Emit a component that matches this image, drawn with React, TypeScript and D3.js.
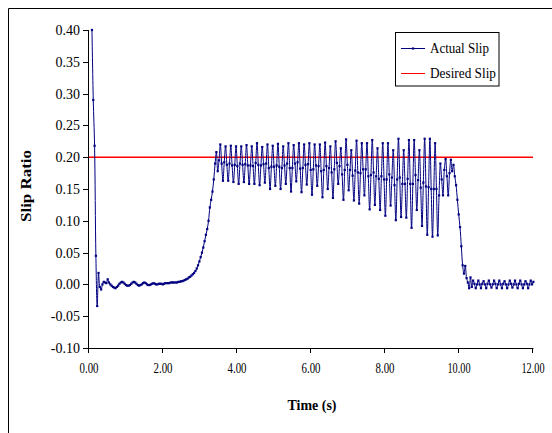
import React from "react";
import * as d3 from "d3";

// Axis ticks
const xTicks = [0, 2, 4, 6, 8, 10, 12];
const yTicks = [-0.1, -0.05, 0, 0.05, 0.1, 0.15, 0.2, 0.25, 0.3, 0.35, 0.4];

// Desired slip set-point
const desiredSlip = 0.2;

// Sampling grid of the measured signal (s)
const sampleStart = 0.08;
const sampleStep = 0.0354;

// Measured slip: braking onset and ramp-up (samples 0..97)
const onsetSlip = [
  0.400, 0.290, 0.218, 0.045, -0.034, 0.018, -0.004, -0.008, 0.000, 0.004,
  0.003, 0.002, 0.008, 0.003, 0.000, -0.002, -0.004, -0.005, -0.006, -0.004,
  -0.002, 0.001, 0.003, 0.004, 0.003, 0.001, -0.001, -0.002, -0.002, -0.001,
  0.001, 0.003, 0.004, 0.003, 0.001, -0.001, -0.002, -0.001, 0.000, 0.002,
  0.003, 0.002, 0.000, -0.001, -0.001, 0.000, 0.001, 0.002, 0.001, 0.000,
  0.000, 0.001, 0.001, 0.001, 0.000, 0.001, 0.002, 0.002, 0.002, 0.002,
  0.003, 0.003, 0.003, 0.003, 0.003, 0.003, 0.004, 0.004, 0.005, 0.005,
  0.006, 0.007, 0.008, 0.009, 0.011, 0.012, 0.014, 0.016, 0.018, 0.021,
  0.025, 0.030, 0.036, 0.043, 0.050, 0.058, 0.068, 0.078, 0.087, 0.100,
  0.121, 0.133, 0.146, 0.165, 0.190, 0.208, 0.178, 0.195,
];

// Measured slip: limit-cycle oscillation (peak, falling, trough, rising)
const cycleSlip = [
  [0.220, 0.190, 0.163, 0.192],
  [0.217, 0.188, 0.163, 0.190],
  [0.218, 0.187, 0.161, 0.188],
  [0.217, 0.186, 0.158, 0.190],
  [0.217, 0.188, 0.161, 0.189],
  [0.219, 0.187, 0.158, 0.187],
  [0.217, 0.186, 0.158, 0.191],
  [0.222, 0.188, 0.156, 0.187],
  [0.216, 0.189, 0.160, 0.190],
  [0.220, 0.183, 0.150, 0.185],
  [0.218, 0.185, 0.155, 0.187],
  [0.221, 0.185, 0.150, 0.183],
  [0.217, 0.187, 0.158, 0.190],
  [0.222, 0.183, 0.146, 0.183],
  [0.219, 0.190, 0.162, 0.192],
  [0.222, 0.182, 0.145, 0.183],
  [0.220, 0.188, 0.157, 0.189],
  [0.222, 0.180, 0.141, 0.181],
  [0.220, 0.187, 0.155, 0.186],
  [0.220, 0.178, 0.137, 0.180],
  [0.223, 0.186, 0.150, 0.183],
  [0.217, 0.176, 0.136, 0.181],
  [0.225, 0.191, 0.158, 0.186],
  [0.214, 0.173, 0.133, 0.180],
  [0.228, 0.188, 0.148, 0.180],
  [0.211, 0.171, 0.132, 0.179],
  [0.226, 0.176, 0.127, 0.175],
  [0.222, 0.181, 0.140, 0.181],
  [0.222, 0.170, 0.118, 0.172],
  [0.227, 0.176, 0.125, 0.170],
  [0.214, 0.166, 0.117, 0.170],
  [0.222, 0.165, 0.108, 0.165],
  [0.222, 0.173, 0.124, 0.168],
  [0.211, 0.156, 0.101, 0.165],
  [0.229, 0.168, 0.106, 0.158],
  [0.211, 0.158, 0.105, 0.166],
  [0.227, 0.158, 0.089, 0.158],
  [0.227, 0.172, 0.117, 0.164],
  [0.211, 0.152, 0.092, 0.160],
  [0.229, 0.154, 0.078, 0.153],
];

// Measured slip: release and drop-out (samples 258..290)
const releaseSlip = [
  0.229, 0.150, 0.075, 0.150, 0.222, 0.150, 0.077, 0.140, 0.190, 0.165,
  0.140, 0.180, 0.197, 0.170, 0.140, 0.175, 0.196, 0.178, 0.188, 0.170,
  0.156, 0.133, 0.110, 0.090, 0.060, 0.030, 0.017, 0.029, 0.010, 0.003,
  -0.006, 0.011, -0.004,
];

// Measured slip: settled ripple (samples 291..337)
const settleSlip = [
  0.006, 0.001, -0.006, 0.000, 0.006, 0.000, -0.006, 0.001, 0.005, 0.000,
  -0.006, 0.001, 0.006, 0.000, -0.005, 0.000, 0.006, 0.001, -0.006, 0.000,
  0.006, 0.000, -0.006, 0.001, 0.005, 0.000, -0.006, 0.000, 0.006, 0.001,
  -0.005, 0.000, 0.006, 0.000, -0.006, 0.001, 0.006, 0.000, -0.006, 0.000,
  0.005, 0.001, -0.006, 0.000, 0.006, 0.000, 0.004,
];

const actualSlip = [...onsetSlip, ...cycleSlip.flat(), ...releaseSlip, ...settleSlip];

const FONT = "'Liberation Serif', 'Times New Roman', serif";
const NAVY = "#000080";

export default function App() {
  const x = d3.scaleLinear().domain([0, 12]).range([89, 533]);
  const y = d3.scaleLinear().domain([-0.1, 0.4]).range([348, 30]);

  const pts: [number, number][] = actualSlip.map((v, i) => [sampleStart + i * sampleStep, v]);
  const line = d3
    .line<[number, number]>()
    .x((d) => x(d[0]))
    .y((d) => y(d[1]))
    .curve(d3.curveCatmullRom.alpha(0.5));

  const x0 = x(0);
  const yBottom = y(-0.1);
  const yTop = y(0.4);

  return (
    <svg
      width={552}
      height={433}
      style={{ position: "absolute", left: 0, top: 0, display: "block", background: "#fff" }}
    >
      {/* outer chart frame */}
      <path d="M8.5,433 V8.5 H552" fill="none" stroke="#000" strokeWidth={1} />

      {/* desired slip */}
      <line x1={x(0)} x2={x(12)} y1={y(desiredSlip)} y2={y(desiredSlip)} stroke="#ff0000" strokeWidth={1.5} />

      {/* actual slip */}
      <path d={line(pts) || ""} fill="none" stroke={NAVY} strokeWidth={1} />
      {pts.map((d, i) => (
        <rect key={i} x={x(d[0]) - 1.1} y={y(d[1]) - 1.1} width={2.2} height={2.2} fill={NAVY} />
      ))}

      {/* y axis */}
      <line x1={Math.round(x0) - 0.5} x2={Math.round(x0) - 0.5} y1={yTop} y2={yBottom + 0.5} stroke="#000" />
      {yTicks.map((t) => {
        const yy = Math.round(y(t)) + 0.5;
        return (
          <g key={"y" + t}>
            <line x1={Math.round(x0) - 6} x2={Math.round(x0)} y1={yy} y2={yy} stroke="#000" />
            <text x={80} y={yy + 4.5} textAnchor="end" fontFamily={FONT} fontSize={14} fill="#000">
              {t.toFixed(2)}
            </text>
          </g>
        );
      })}

      {/* x axis */}
      <line x1={Math.round(x0) - 1} x2={x(12) + 0.5} y1={Math.round(yBottom) + 0.5} y2={Math.round(yBottom) + 0.5} stroke="#000" />
      {xTicks.map((t) => {
        const xx = Math.round(x(t)) - 0.5;
        const label = t.toFixed(2);
        return (
          <g key={"x" + t}>
            <line x1={xx} x2={xx} y1={Math.round(yBottom)} y2={Math.round(yBottom) + 5} stroke="#000" />
            <text
              x={x(t)}
              y={373}
              textAnchor="middle"
              fontFamily={FONT}
              fontSize={14}
              fill="#000"
              textLength={label.length > 4 ? 23 : 19}
              lengthAdjust="spacingAndGlyphs"
            >
              {label}
            </text>
          </g>
        );
      })}

      {/* axis titles */}
      <text
        x={312}
        y={410}
        textAnchor="middle"
        fontFamily={FONT}
        fontSize={15}
        fontWeight="bold"
        textLength={49}
        lengthAdjust="spacingAndGlyphs"
      >
        Time (s)
      </text>
      <text
        transform="translate(31,186) rotate(-90)"
        textAnchor="middle"
        fontFamily={FONT}
        fontSize={15}
        fontWeight="bold"
        textLength={72}
        lengthAdjust="spacingAndGlyphs"
      >
        Slip Ratio
      </text>

      {/* legend */}
      <rect x={395.5} y={32.5} width={103.5} height={53.5} fill="#fff" stroke="#000" />
      <line x1={401} x2={425} y1={48.5} y2={48.5} stroke={NAVY} />
      <rect x={412} y={47.4} width={2.2} height={2.2} fill={NAVY} />
      <text x={430} y={53} fontFamily={FONT} fontSize={14} textLength={59} lengthAdjust="spacingAndGlyphs">
        Actual Slip
      </text>
      <line x1={401} x2={425} y1={73.5} y2={73.5} stroke="#ff0000" />
      <text x={430} y={78} fontFamily={FONT} fontSize={14} textLength={66} lengthAdjust="spacingAndGlyphs">
        Desired Slip
      </text>
    </svg>
  );
}
